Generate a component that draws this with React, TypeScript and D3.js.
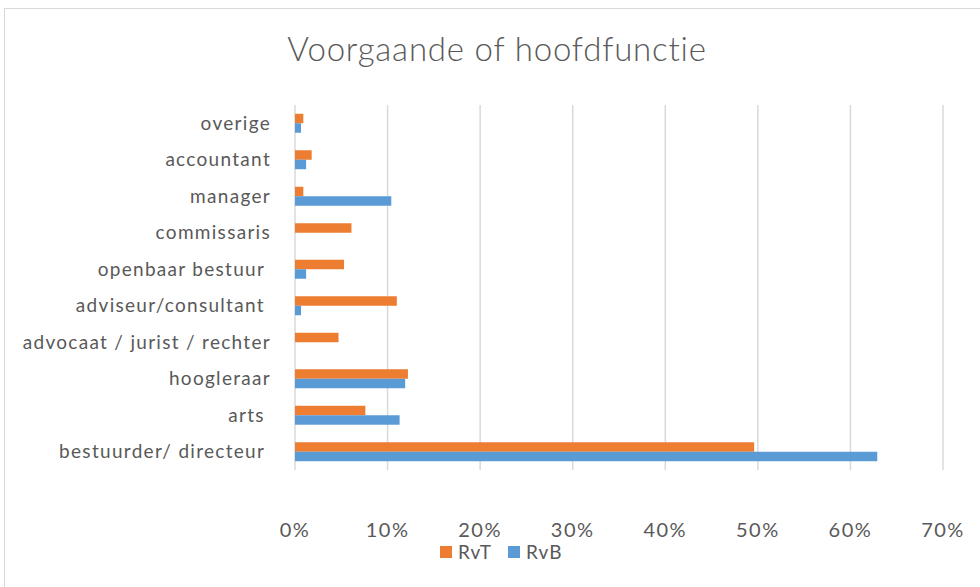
import { useRef, useEffect } from 'react';
import * as d3 from 'd3';

const categories = [
  'overige',
  'accountant',
  'manager',
  'commissaris',
  'openbaar bestuur ',
  'adviseur/consultant ',
  'advocaat / jurist / rechter',
  'hoogleraar',
  'arts ',
  'bestuurder/ directeur ',
];
const rvtValues = [0.009, 0.018, 0.009, 0.061, 0.053, 0.11, 0.047, 0.122, 0.076, 0.496];
const rvbValues = [0.0065, 0.012, 0.104, 0, 0.012, 0.0065, 0, 0.119, 0.113, 0.629];
const xTicks = [0, 0.1, 0.2, 0.3, 0.4, 0.5, 0.6, 0.7];
const seriesNames = ['RvT', 'RvB'];
const seriesColors = ['#ED7D31', '#5B9BD5'];

const W = 980;
const H = 587;

export default function App() {
  const svgRef = useRef<SVGSVGElement>(null);

  useEffect(() => {
    const svg = d3.select(svgRef.current);
    svg.selectAll('*').remove();

    const font = "Lato, 'Open Sans', sans-serif";
    const textColor = '#595959';

    svg.append('rect')
      .attr('x', 0).attr('y', 0).attr('width', W).attr('height', H)
      .attr('fill', '#fff');

    // chart border
    svg.append('rect')
      .attr('x', 4.5).attr('y', 8.5).attr('width', W).attr('height', H)
      .attr('fill', 'none')
      .attr('stroke', '#D9D9D9')
      .attr('stroke-width', 1);

    const left = 295;
    const right = 943;
    const top = 105;
    const bottom = 470;

    const x = d3.scaleLinear().domain([0, 0.7]).range([left, right]);
    const y = d3.scaleBand().domain(categories).range([top, bottom]).paddingInner(0.48).paddingOuter(0.24);
    const sub = d3.scaleBand().domain(seriesNames).range([0, y.bandwidth()]);

    // title
    svg.append('text')
      .attr('x', 497).attr('y', 61)
      .attr('text-anchor', 'middle')
      .attr('fill', textColor)
      .attr('font-family', font)
      .attr('font-size', '33px')
      .attr('font-weight', 300)
      .attr('letter-spacing', '0.8px')
      .text('Voorgaande of hoofdfunctie');

    // gridlines
    svg.append('g')
      .selectAll('line')
      .data(xTicks)
      .join('line')
      .attr('x1', (d) => x(d)).attr('x2', (d) => x(d))
      .attr('y1', top).attr('y2', bottom)
      .attr('stroke', '#D9D9D9')
      .attr('stroke-width', 1.5);

    // x tick labels
    svg.append('g')
      .selectAll('text')
      .data(xTicks)
      .join('text')
      .attr('x', (d) => x(d)).attr('y', 537)
      .attr('text-anchor', 'middle')
      .attr('fill', textColor)
      .attr('font-family', font)
      .attr('font-size', '20px')
      .attr('letter-spacing', '1.5px')
      .text((d) => d3.format('.0%')(d));

    // category labels
    svg.append('g')
      .selectAll('text')
      .data(categories)
      .join('text')
      .attr('x', 271)
      .attr('y', (d) => (y(d) ?? 0) + y.bandwidth() / 2)
      .attr('dy', '0.35em')
      .attr('text-anchor', 'end')
      .attr('fill', textColor)
      .attr('font-family', font)
      .attr('font-size', '19px')
      .attr('letter-spacing', '1.3px')
      .style('white-space', 'pre')
      .text((d) => d);

    // bars
    const series = [rvtValues, rvbValues];
    series.forEach((vals, si) => {
      svg.append('g')
        .selectAll('rect')
        .data(vals)
        .join('rect')
        .attr('x', x(0))
        .attr('y', (_, i) => (y(categories[i]) ?? 0) + (sub(seriesNames[si]) ?? 0))
        .attr('width', (d) => x(d) - x(0))
        .attr('height', sub.bandwidth())
        .attr('fill', seriesColors[si]);
    });

    // legend
    const legendItems = [
      { name: 'RvT', sx: 440, tx: 458 },
      { name: 'RvB', sx: 508, tx: 526 },
    ];
    legendItems.forEach((item, i) => {
      svg.append('rect')
        .attr('x', item.sx).attr('y', 546)
        .attr('width', 12).attr('height', 12)
        .attr('fill', seriesColors[i]);
      svg.append('text')
        .attr('x', item.tx).attr('y', 559)
        .attr('fill', textColor)
        .attr('font-family', font)
        .attr('font-size', '19px')
        .attr('letter-spacing', '1px')
        .text(item.name);
    });
  }, []);

  return (
    <svg
      ref={svgRef}
      width={W}
      height={H}
      viewBox={`0 0 ${W} ${H}`}
      style={{ position: 'absolute', left: 0, top: 0, display: 'block' }}
    />
  );
}
